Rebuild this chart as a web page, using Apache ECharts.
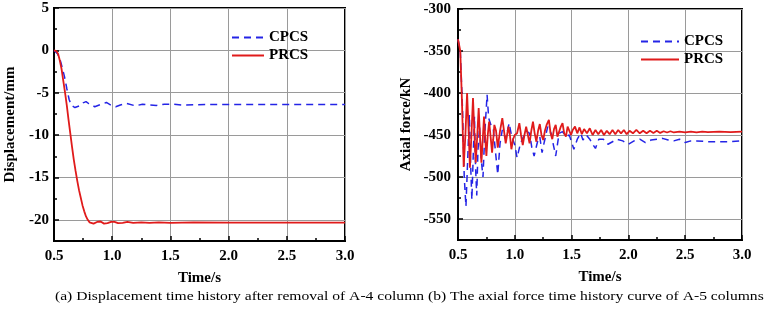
<!DOCTYPE html>
<html>
<head>
<meta charset="utf-8">
<script src="https://cdn.jsdelivr.net/npm/echarts@6/dist/echarts.min.js"></script>
<style>
html, body { margin: 0; padding: 0; background: #fff; }
#main { width: 765px; height: 311px; }
</style>
</head>
<body>
<div id="main"></div>
<script>
// (a) displacement, [time s, mm]
var cpcsDisp = [[0.5,0],[0.53,-0.4],[0.55,-1.0],[0.57,-2.0],[0.59,-3.1],[0.61,-4.5],[0.63,-5.8],[0.65,-6.5],[0.68,-6.75],[0.72,-6.55],[0.75,-6.2],[0.775,-6.05],[0.80,-6.3],[0.85,-6.65],[0.90,-6.4],[0.95,-6.15],[1.0,-6.55],[1.03,-6.65],[1.07,-6.45],[1.12,-6.25],[1.2,-6.55],[1.26,-6.35],[1.32,-6.45],[1.38,-6.5],[1.45,-6.35],[1.53,-6.35],[1.6,-6.45],[1.8,-6.4],[2.0,-6.4],[2.5,-6.4],[3.0,-6.4]];
var prcsDisp = [[0.5,0],[0.52,-0.1],[0.535,-0.4],[0.55,-1.2],[0.565,-2.2],[0.58,-3.6],[0.595,-5.0],[0.61,-6.5],[0.625,-8.2],[0.64,-9.8],[0.655,-11.4],[0.67,-12.9],[0.685,-14.2],[0.70,-15.4],[0.715,-16.5],[0.73,-17.4],[0.745,-18.3],[0.76,-19.0],[0.775,-19.6],[0.79,-20.0],[0.805,-20.3],[0.82,-20.5],[0.84,-20.45],[0.87,-20.25],[0.9,-20.2],[0.93,-20.45],[0.96,-20.4],[0.99,-20.25],[1.02,-20.25],[1.05,-20.4],[1.09,-20.35],[1.13,-20.25],[1.18,-20.35],[1.25,-20.3],[1.32,-20.35],[1.4,-20.3],[1.5,-20.35],[1.7,-20.3],[2.0,-20.32],[2.5,-20.32],[3.0,-20.32]];

// (b) axial force, [time s, kN]
var cpcsForce = [[0.50,-336],[0.52,-350],[0.54,-420],[0.555,-500],[0.57,-535],[0.585,-480],[0.60,-426],[0.61,-480],[0.622,-527],[0.635,-470],[0.645,-428],[0.655,-490],[0.665,-522],[0.675,-470],[0.69,-440],[0.705,-480],[0.72,-500],[0.735,-450],[0.756,-402],[0.77,-430],[0.79,-438],[0.81,-442],[0.83,-470],[0.85,-497],[0.87,-460],[0.89,-444],[0.92,-455],[0.95,-436],[0.97,-450],[1.0,-462],[1.02,-477],[1.05,-460],[1.07,-454],[1.10,-445],[1.13,-448],[1.15,-465],[1.17,-475],[1.20,-458],[1.22,-452],[1.24,-471],[1.26,-458],[1.29,-440],[1.32,-448],[1.34,-462],[1.36,-475],[1.39,-448],[1.42,-446],[1.45,-452],[1.48,-450],[1.52,-467],[1.55,-455],[1.58,-448],[1.60,-456],[1.63,-450],[1.66,-455],[1.69,-462],[1.71,-466],[1.74,-455],[1.78,-455],[1.82,-461],[1.86,-458],[1.90,-455],[1.95,-457],[2.00,-461],[2.05,-457],[2.10,-455],[2.15,-459],[2.20,-456],[2.25,-455],[2.30,-454],[2.35,-456],[2.40,-457],[2.45,-455],[2.50,-459],[2.55,-457],[2.60,-457],[2.70,-458],[2.80,-458],[2.90,-458],[3.0,-457]];
var prcsForce = [[0.50,-336],[0.52,-350],[0.535,-410],[0.55,-488],[0.565,-450],[0.58,-400],[0.595,-450],[0.605,-489],[0.62,-445],[0.632,-406],[0.645,-450],[0.656,-483],[0.67,-450],[0.682,-418],[0.695,-455],[0.706,-483],[0.718,-455],[0.729,-428],[0.74,-455],[0.75,-475],[0.762,-450],[0.774,-434],[0.787,-452],[0.80,-471],[0.81,-455],[0.82,-438],[0.835,-445],[0.85,-465],[0.87,-445],[0.89,-430],[0.905,-445],[0.92,-460],[0.932,-450],[0.944,-440],[0.957,-450],[0.97,-467],[0.985,-455],[1.0,-450],[1.02,-448],[1.04,-436],[1.055,-450],[1.07,-462],[1.085,-450],[1.10,-440],[1.115,-450],[1.13,-460],[1.145,-445],[1.16,-434],[1.175,-448],[1.19,-458],[1.205,-445],[1.22,-437],[1.235,-450],[1.25,-456],[1.265,-445],[1.28,-438],[1.30,-432],[1.315,-448],[1.33,-455],[1.345,-443],[1.36,-438],[1.375,-452],[1.39,-450],[1.405,-440],[1.42,-436],[1.435,-448],[1.45,-452],[1.465,-440],[1.48,-440],[1.495,-450],[1.51,-444],[1.53,-440],[1.55,-448],[1.57,-441],[1.59,-449],[1.61,-443],[1.635,-448],[1.66,-442],[1.685,-450],[1.71,-444],[1.735,-449],[1.76,-444],[1.785,-450],[1.81,-445],[1.835,-449],[1.86,-444],[1.885,-449],[1.91,-444],[1.935,-448],[1.96,-444],[1.985,-449],[2.01,-445],[2.04,-448],[2.07,-444],[2.10,-448],[2.13,-445],[2.16,-448],[2.19,-445],[2.22,-447.5],[2.25,-445],[2.28,-447.5],[2.31,-445.5],[2.34,-447],[2.37,-445.5],[2.40,-447],[2.45,-446],[2.5,-447],[2.55,-446],[2.6,-447],[2.65,-446],[2.7,-446.5],[2.8,-446],[2.9,-446.5],[3.0,-446]];

var seriesNames = ['CPCS', 'PRCS'];
var captions = ['(a) Displacement time history after removal of A-4 column',
                '(b) The axial force time history curve of A-5 columns'];

var font = 'Liberation Serif';
var blue = '#2424e6';
var red = '#e01b1b';

function xAxis(idx) {
    return {
        type: 'value', gridIndex: idx, min: 0.5, max: 3.0, interval: 0.5,
        name: 'Time/s', nameLocation: 'middle', nameGap: 30,
        nameTextStyle: { fontFamily: font, fontWeight: 'bold', fontSize: 15, color: '#000' },
        axisLine: { onZero: false, lineStyle: { color: '#000', width: 2 } },
        axisTick: { inside: true, length: 5, lineStyle: { color: '#000', width: 1.5 } },
        minorTick: { show: true, splitNumber: 2, length: 3, lineStyle: { color: '#000', width: 1.5 } },
        axisLabel: { fontFamily: font, fontWeight: 'bold', fontSize: 15, color: '#000', margin: 8,
            formatter: function (v) { return v.toFixed(1); } },
        splitLine: { show: true, lineStyle: { color: '#9a9a9a', width: 1 } }
    };
}

function yAxis(idx, name, min, max, gap, margin) {
    return {
        type: 'value', gridIndex: idx, min: min, max: max, splitNumber: 5,
        name: name, nameLocation: 'middle', nameGap: gap,
        nameTextStyle: { fontFamily: font, fontWeight: 'bold', fontSize: 15, color: '#000' },
        axisLine: { onZero: false, lineStyle: { color: '#000', width: 2 } },
        axisTick: { inside: true, length: 5, lineStyle: { color: '#000', width: 1.5 } },
        minorTick: { show: true, splitNumber: 2, length: 3, lineStyle: { color: '#000', width: 1.5 } },
        axisLabel: { fontFamily: font, fontWeight: 'bold', fontSize: 15, color: '#000', margin: margin,
            showMinLabel: false },
        splitLine: { show: true, lineStyle: { color: '#9a9a9a', width: 1 } }
    };
}

function legend(left, top, w) {
    return {
        orient: 'vertical', left: left, top: top, itemWidth: w, itemHeight: 12, itemGap: 3,
        data: seriesNames,
        itemStyle: { opacity: 0 },
        textStyle: { fontFamily: font, fontWeight: 'bold', fontSize: 15, color: '#000' }
    };
}

function line(name, idx, data) {
    var dashed = name === 'CPCS';
    return {
        name: name, type: 'line', xAxisIndex: idx, yAxisIndex: idx, data: data,
        showSymbol: false, symbol: 'none', animation: false,
        lineStyle: { color: dashed ? blue : red, width: dashed ? 1.5 : 1.8, type: dashed ? [7, 5] : 'solid' },
        itemStyle: { color: dashed ? blue : red },
        z: dashed ? 2 : 3
    };
}

var myChart = echarts.init(document.getElementById('main'));
var option = {
    backgroundColor: '#fff',
    animation: false,
    grid: [
        { left: 54, right: 420, top: 8, bottom: 70, show: true, borderColor: '#000', borderWidth: 2 },
        { left: 458, right: 23, top: 9, bottom: 71, show: true, borderColor: '#000', borderWidth: 2 }
    ],
    xAxis: [xAxis(0), xAxis(1)],
    yAxis: [
        yAxis(0, 'Displacement/mm', -22.5, 5, 36, 5),
        yAxis(1, 'Axial force/kN', -575, -300, 44, 7)
    ],
    legend: [legend(226, 25, 32), legend(635, 29, 38)],
    series: [
        line('CPCS', 0, cpcsDisp),
        line('PRCS', 0, prcsDisp),
        line('CPCS', 1, cpcsForce),
        line('PRCS', 1, prcsForce)
    ],
    graphic: [
        { type: 'text', left: 55, top: 290, scaleX: 1.2, originX: 0,
          style: { text: captions[0], font: '13px "Liberation Serif"', fill: '#000' } },
        { type: 'text', left: 428, top: 290, scaleX: 1.2, originX: 0,
          style: { text: captions[1], font: '13px "Liberation Serif"', fill: '#000' } }
    ]
};
myChart.setOption(option);
</script>
</body>
</html>
